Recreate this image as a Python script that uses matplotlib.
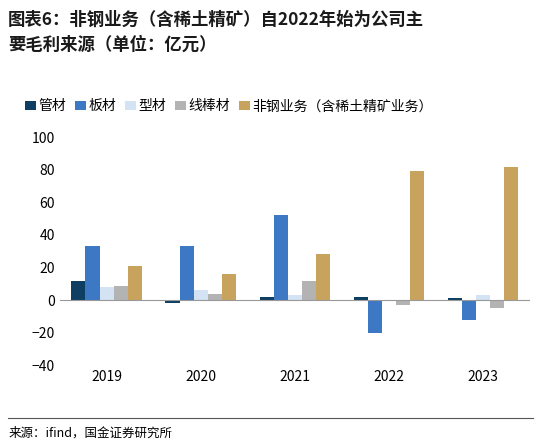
import matplotlib
matplotlib.use("Agg")
import matplotlib.pyplot as plt
import numpy as np

plt.rcParams['font.family'] = ['Noto Sans CJK SC', 'DejaVu Sans']

years = ['2019', '2020', '2021', '2022', '2023']
series = ['管材', '板材', '型材', '线棒材', '非钢业务（含稀土精矿业务）']
guan = [12, -2, 2, 2, 1]
ban = [33, 33, 52, -20, -12]
xing = [8, 6, 3, 0.3, 3]
xianbang = [8.5, 4, 12, -3, -5]
feigang = [21, 16, 28, 79, 82]
data = [guan, ban, xing, xianbang, feigang]
colors = ['#0e3f63', '#3c78c3', '#d3e3f3', '#b3b3b3', '#c7a35e']

fig = plt.figure(figsize=(5.41, 4.47), dpi=100)
ax = fig.add_axes([0.11, 0.183, 0.87, 0.51])
x = np.arange(len(years))
w = 0.15
for i, (s, d, c) in enumerate(zip(series, data, colors)):
    ax.bar(x + (i - 2) * w, d, w, color=c, label=s)
ax.set_ylim(-40, 100)
ax.set_yticks(range(-40, 101, 20))
ax.set_xticks(x)
ax.set_xticklabels(years)
ax.set_xlim(-0.5, 4.5)
ax.axhline(0, color='#999999', lw=0.8)
for sp in ['top', 'right', 'left', 'bottom']:
    ax.spines[sp].set_visible(False)
ax.tick_params(length=0, labelsize=10)
ax.legend(loc='lower left', bbox_to_anchor=(-0.1, 1.05), ncol=5, frameon=False,
          fontsize=10, handlelength=0.8, handletextpad=0.2, columnspacing=0.6)

fig.text(0.015, 0.975, '图表6：非钢业务（含稀土精矿）自2022年始为公司主\n要毛利来源（单位：亿元）',
         fontsize=12.5, fontweight='bold', fontstyle='italic', va='top', color='#1a1a1a', linespacing=1.5)
fig.add_artist(plt.Line2D([0.015, 0.985], [0.065, 0.065], color='#555555', lw=0.8))
fig.text(0.015, 0.03, '来源：ifind，国金证券研究所', fontsize=9, va='center')
fig.savefig('out.png', dpi=100)
